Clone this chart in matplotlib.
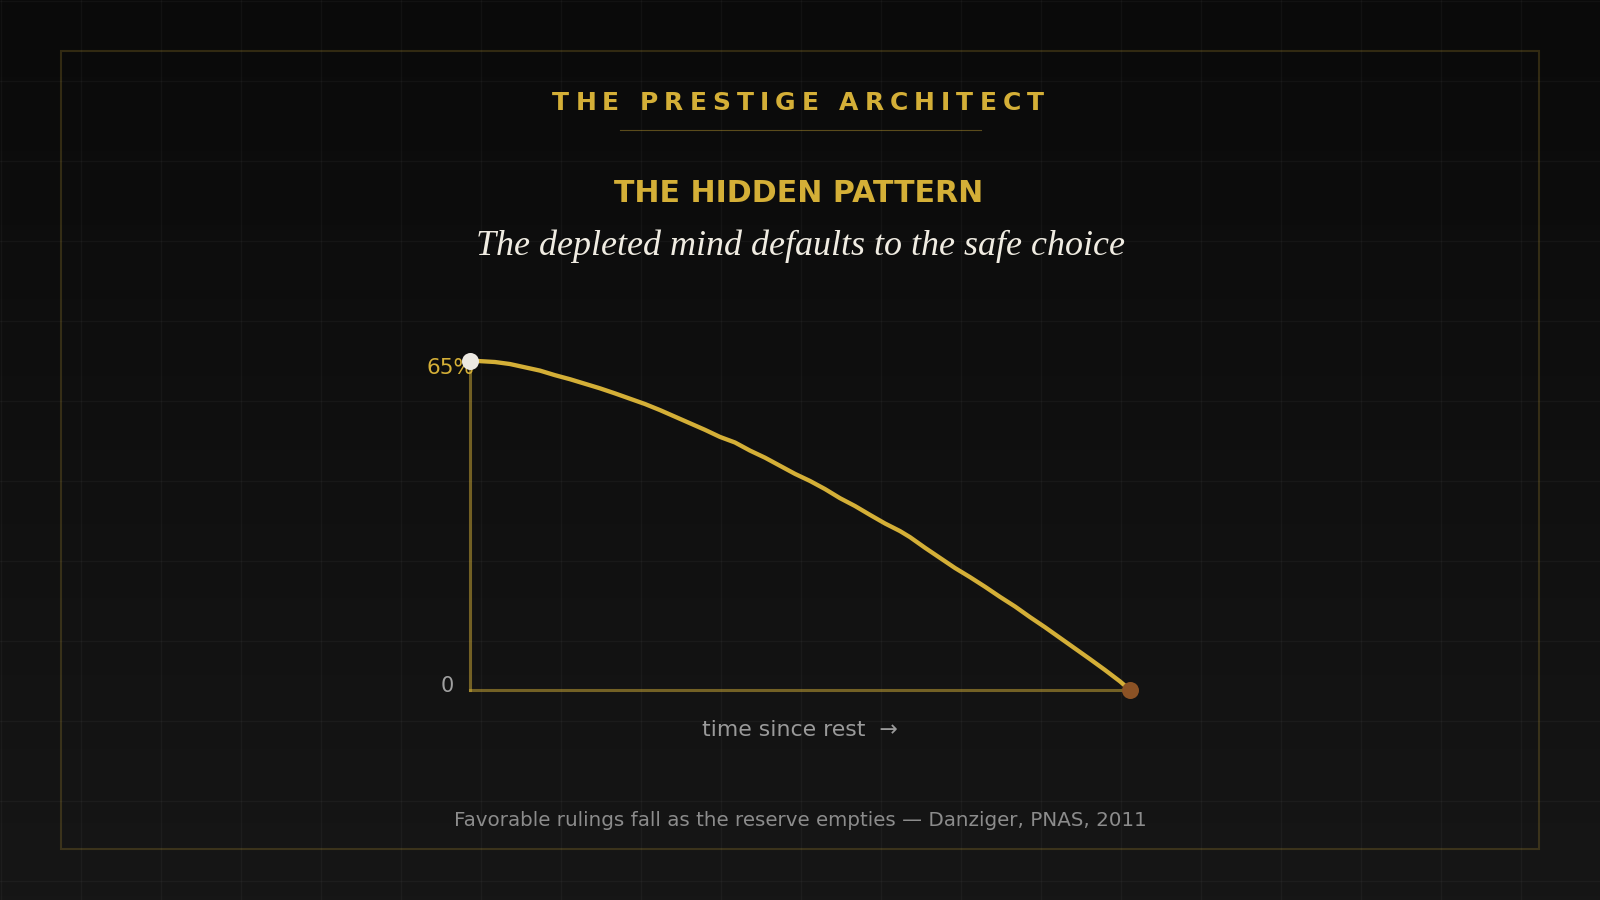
import matplotlib
matplotlib.use("Agg")
import matplotlib.pyplot as plt
from matplotlib.font_manager import FontProperties
import numpy as np

# values (x: arbitrary time units, y: % favorable)
time_since_rest = [0, 8, 25, 40, 55, 70, 85, 100, 115, 130, 145, 160, 175, 190, 205,
                   220, 235, 250, 265, 280, 295, 310, 325, 340, 355, 370, 385, 400, 415,
                   430, 440, 455, 470, 485, 500, 515, 530, 545, 560, 575, 590, 605, 620,
                   635, 650, 660]
favorable_pct = [65.0, 65.0, 64.8, 64.4, 63.75, 63.1, 62.2, 61.4, 60.5, 59.6, 58.6, 57.55,
                 56.5, 55.3, 54.0, 52.7, 51.4, 50.0, 48.9, 47.3, 45.9, 44.3, 42.7, 41.3,
                 39.7, 37.9, 36.35, 34.6, 32.9, 31.4, 30.2, 28.1, 26.1, 24.1, 22.3, 20.4,
                 18.4, 16.5, 14.4, 12.4, 10.3, 8.2, 6.1, 3.95, 1.7, 0.0]
y_tick_labels = ["0", "65%"]

brand = "THE PRESTIGE ARCHITECT"
title = "THE HIDDEN PATTERN"
subtitle = "The depleted mind defaults to the safe choice"
x_label = "time since rest  \u2192"
source = "Favorable rulings fall as the reserve empties \u2014 Danziger, PNAS, 2011"

GOLD = "#d4af37"
W, H = 1600, 900

fig = plt.figure(figsize=(16, 9), dpi=100)

# background layer in pixel coords
bg = fig.add_axes([0, 0, 1, 1])
bg.set_xlim(0, W)
bg.set_ylim(H, 0)
bg.axis("off")
grad = np.linspace(0, 1, 256).reshape(-1, 1)
bg.imshow(grad, extent=[0, W, H, 0], cmap=matplotlib.colors.LinearSegmentedColormap.from_list(
    "bgc", ["#0a0a0a", "#161616"]), aspect="auto", zorder=0)
for gx in range(0, W + 1, 80):
    bg.axvline(gx + 0.5, color="white", alpha=0.035, lw=1, zorder=1)
for gy in range(0, H + 1, 80):
    bg.axhline(gy + 0.5, color="white", alpha=0.035, lw=1, zorder=1)

frame = plt.Rectangle((61, 51), 1478, 798, fill=False, edgecolor=GOLD, alpha=0.2, lw=1.5, zorder=2)
bg.add_patch(frame)

# letter-spaced brand line
renderer = fig.canvas.get_renderer()
fp = FontProperties(family="DejaVu Sans", weight="bold", size=18)
tracking = 6.0
widths = []
for ch in brand:
    if ch == " ":
        w1, _, _ = renderer.get_text_width_height_descent("a a", fp, ismath=False)
        w2, _, _ = renderer.get_text_width_height_descent("aa", fp, ismath=False)
        w = w1 - w2
    else:
        w, _, _ = renderer.get_text_width_height_descent(ch, fp, ismath=False)
    widths.append(w)
total = sum(widths) + tracking * (len(brand) - 1)
x = 798 - total / 2
for ch, w in zip(brand, widths):
    bg.text(x, 102.5, ch, fontproperties=fp, color=GOLD, ha="left", va="center", zorder=3)
    x += w + tracking

bg.plot([620, 981], [130, 130], color=GOLD, alpha=0.4, lw=0.8, zorder=3)

bg.text(799, 194, title, color=GOLD, fontsize=21.6, fontweight="bold",
        family="DejaVu Sans", ha="center", va="center", zorder=3)
bg.text(800, 246, subtitle, color="#f0ece2", fontsize=25.9, style="italic",
        family="Liberation Serif", ha="center", va="center", zorder=3)
bg.text(800, 730, x_label, color="#9a9a9a", fontsize=15.8, family="DejaVu Sans",
        ha="center", va="center", zorder=3)
bg.text(800, 821, source, color="#8c8c8c", fontsize=14.35, family="DejaVu Sans",
        ha="center", va="center", zorder=3)

# chart
ax = fig.add_axes([470 / W, 210 / H, 660 / W, 329 / H])
ax.set_facecolor("none")
ax.set_xlim(time_since_rest[0], time_since_rest[-1])
ax.set_ylim(0, max(favorable_pct))
for s in ["top", "right"]:
    ax.spines[s].set_visible(False)
for s in ["left", "bottom"]:
    ax.spines[s].set_color(GOLD)
    ax.spines[s].set_alpha(0.5)
    ax.spines[s].set_linewidth(2.2)
ax.set_xticks([])
ax.set_yticks([])

ax.plot(time_since_rest, favorable_pct, color=GOLD, lw=3.1, solid_capstyle="round",
        solid_joinstyle="round", clip_on=False, zorder=4)
ax.scatter([time_since_rest[0]], [favorable_pct[0]], s=150, color="#ece9e2", zorder=5,
           clip_on=False, linewidths=0)
ax.scatter([time_since_rest[-1]], [favorable_pct[-1]], s=150, color="#8b5225", zorder=5,
           clip_on=False, linewidths=0)

ax.text(-16, 0.7, y_tick_labels[0], color="#a0a0a0", fontsize=15, ha="right", va="center")
ax.text(4, favorable_pct[0] - 1.3, y_tick_labels[1], color=GOLD, fontsize=15.5, ha="right",
        va="center", zorder=3)

fig.savefig("out.png", dpi=100, facecolor="#0f0f0f")
